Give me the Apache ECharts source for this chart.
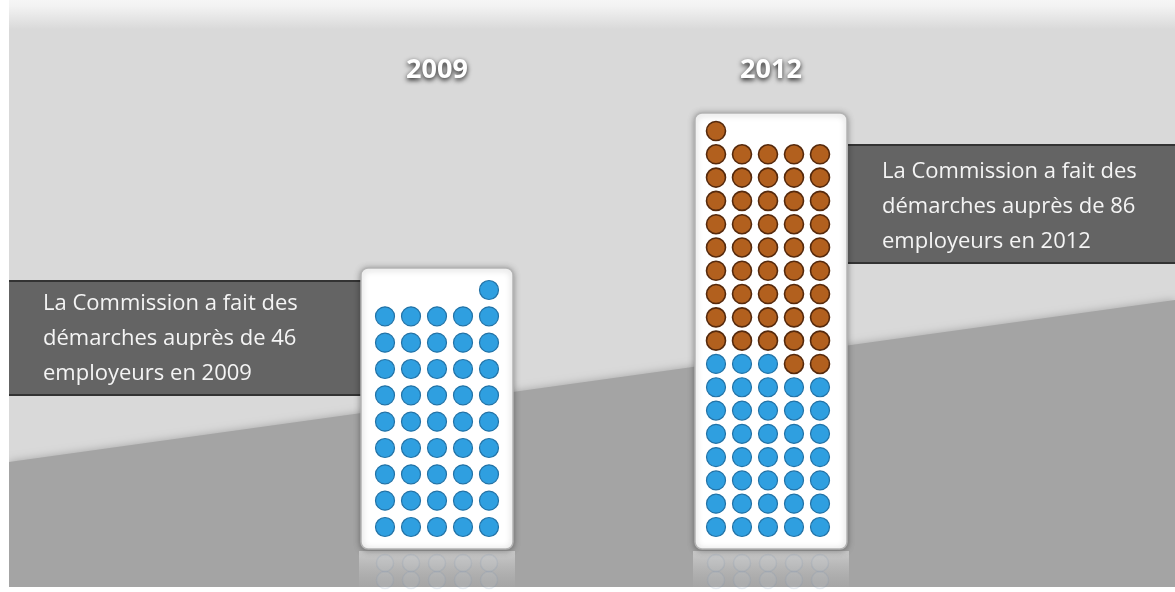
<!DOCTYPE html>
<html>
<head>
<meta charset="utf-8">
<script src="https://cdn.jsdelivr.net/npm/echarts@6/dist/echarts.min.js"></script>
<style>
  html, body { margin: 0; padding: 0; background: #ffffff; }
  #chart { width: 1175px; height: 592px; }
</style>
</head>
<body>
<div id="chart"></div>
<script>
// ---- data ----
const years = ['2009', '2012'];
const blueCounts = [46, 38];
const brownCounts = [0, 48];
const captions = [
  ['La Commission a fait des', 'démarches auprès de 46', 'employeurs en 2009'],
  ['La Commission a fait des', 'démarches auprès de 86', 'employeurs en 2012']
];
const perRow = 5;

// ---- layout ----
const gridRects = [
  { left: 385, top: 290, width: 104, height: 237 },
  { left: 716, top: 131, width: 104, height: 396 }
];
const fillFromRight = [true, false];
const cardRects = [
  { x: 361, y: 268, w: 152, h: 281 },
  { x: 695, y: 113, w: 152, h: 436 }
];
const BLUE = '#2f9fe0', BLUE_B = '#2272a6';
const BROWN = '#b2601e', BROWN_B = '#55290c';

const chart = echarts.init(document.getElementById('chart'));

const grids = [], xAxes = [], yAxes = [], series = [];
years.forEach((yr, k) => {
  const total = blueCounts[k] + brownCounts[k];
  const rows = Math.ceil(total / perRow);
  grids.push(Object.assign({ containLabel: false }, gridRects[k]));
  xAxes.push({ type: 'value', gridIndex: k, min: 0, max: perRow - 1, show: false });
  yAxes.push({ type: 'value', gridIndex: k, min: 0, max: rows - 1, show: false });
  const blue = [], brown = [];
  for (let i = 0; i < total; i++) {
    const r = Math.floor(i / perRow);
    const c = fillFromRight[k] ? perRow - 1 - (i % perRow) : i % perRow;
    (i < blueCounts[k] ? blue : brown).push([c, r]);
  }
  // faint reflection of the two bottom rows (pixel offsets converted to row units)
  const rowPx = gridRects[k].height / (rows - 1);
  const refl = [];
  [36, 53].forEach(off => {
    for (let c = 0; c < perRow; c++) refl.push([c, -off / rowPx]);
  });
  const common = { type: 'scatter', xAxisIndex: k, yAxisIndex: k, symbolSize: 19, clip: false, silent: true, z: 5 };
  series.push(Object.assign({}, common, { name: yr + ' reflet', data: refl, symbolSize: 17,
    itemStyle: { opacity: 1, color: 'rgba(215,225,235,0.10)', borderColor: 'rgba(130,150,175,0.18)', borderWidth: 1.5 } }));
  if (blue.length) series.push(Object.assign({}, common, { name: yr + ' bleu', data: blue,
    itemStyle: { opacity: 1, color: BLUE, borderColor: BLUE_B, borderWidth: 1.2 } }));
  if (brown.length) series.push(Object.assign({}, common, { name: yr + ' brun', data: brown,
    itemStyle: { opacity: 1, color: BROWN, borderColor: BROWN_B, borderWidth: 1.6 } }));
});

const graphics = [];
// background
graphics.push({ type: 'rect', z: -10, silent: true, shape: { x: 0, y: 0, width: 1175, height: 592 }, style: { fill: '#ffffff' } });
graphics.push({ type: 'rect', z: -9, silent: true, shape: { x: 9, y: 0, width: 1166, height: 587 },
  style: { fill: new echarts.graphic.LinearGradient(0, 0, 0, 1, [
    { offset: 0, color: '#f6f6f6' }, { offset: 0.01, color: '#f3f3f3' },
    { offset: 0.05, color: '#d9d9d9' }, { offset: 1, color: '#d9d9d9' }]) } });
graphics.push({ type: 'polygon', z: -8, silent: true,
  shape: { points: [[9, 462], [1175, 300], [1175, 587], [9, 587]] },
  style: { fill: '#a4a4a4', shadowBlur: 8, shadowColor: '#a4a4a4' } });
// white margins
graphics.push({ type: 'rect', z: -7, silent: true, shape: { x: 0, y: 0, width: 9, height: 592 }, style: { fill: '#ffffff' } });
graphics.push({ type: 'rect', z: -7, silent: true, shape: { x: 0, y: 587, width: 1175, height: 5 }, style: { fill: '#ffffff' } });

// caption bands
const bands = [
  { x: 9, y: 280, w: 352, h: 116, tx: 43, ty: 304 },
  { x: 848, y: 144, w: 327, h: 120, tx: 882, ty: 172 }
];
bands.forEach((b, k) => {
  graphics.push({ type: 'rect', z: -6, silent: true, shape: { x: b.x, y: b.y, width: b.w, height: b.h },
    style: { fill: '#646464' } });
  graphics.push({ type: 'rect', z: -5, silent: true, shape: { x: b.x, y: b.y, width: b.w, height: 2 }, style: { fill: '#333333' } });
  graphics.push({ type: 'rect', z: -5, silent: true, shape: { x: b.x, y: b.y + b.h - 2, width: b.w, height: 2 }, style: { fill: '#333333' } });
  captions[k].forEach((line, j) => {
    graphics.push({ type: 'text', z: -4, silent: true, x: b.tx, y: b.ty + j * 35,
      style: { text: line, fill: '#f4f4f4', font: '22px "Open Sans"', textVerticalAlign: 'middle', textAlign: 'left' } });
  });
});

// cards and reflections
cardRects.forEach((c, k) => {
  graphics.push({ type: 'rect', z: -3, silent: true, shape: { x: c.x - 2, y: c.y + c.h + 2, width: c.w + 4, height: 36 },
    style: { fill: new echarts.graphic.LinearGradient(0, 0, 0, 1, [
      { offset: 0, color: 'rgba(235,235,235,0.55)' }, { offset: 1, color: 'rgba(200,200,200,0.05)' }]) } });
  graphics.push({ type: 'rect', z: -2, silent: true, shape: { x: c.x, y: c.y, width: c.w, height: c.h, r: 7 },
    style: { fill: '#ffffff', stroke: '#b4b4b4', lineWidth: 1.5, shadowBlur: 6, shadowColor: 'rgba(0,0,0,0.35)', shadowOffsetY: 1 } });
  graphics.push({ type: 'text', z: 10, silent: true, x: c.x + c.w / 2, y: 70,
    style: { text: years[k], fill: '#ffffff', font: 'bold 27px "Open Sans"', textAlign: 'center', textVerticalAlign: 'middle',
      textShadowColor: 'rgba(0,0,0,0.9)', textShadowBlur: 5, textShadowOffsetY: 2 } });
});

chart.setOption({
  animation: false,
  backgroundColor: '#ffffff',
  grid: grids,
  xAxis: xAxes,
  yAxis: yAxes,
  series: series,
  graphic: graphics
});
</script>
</body>
</html>
